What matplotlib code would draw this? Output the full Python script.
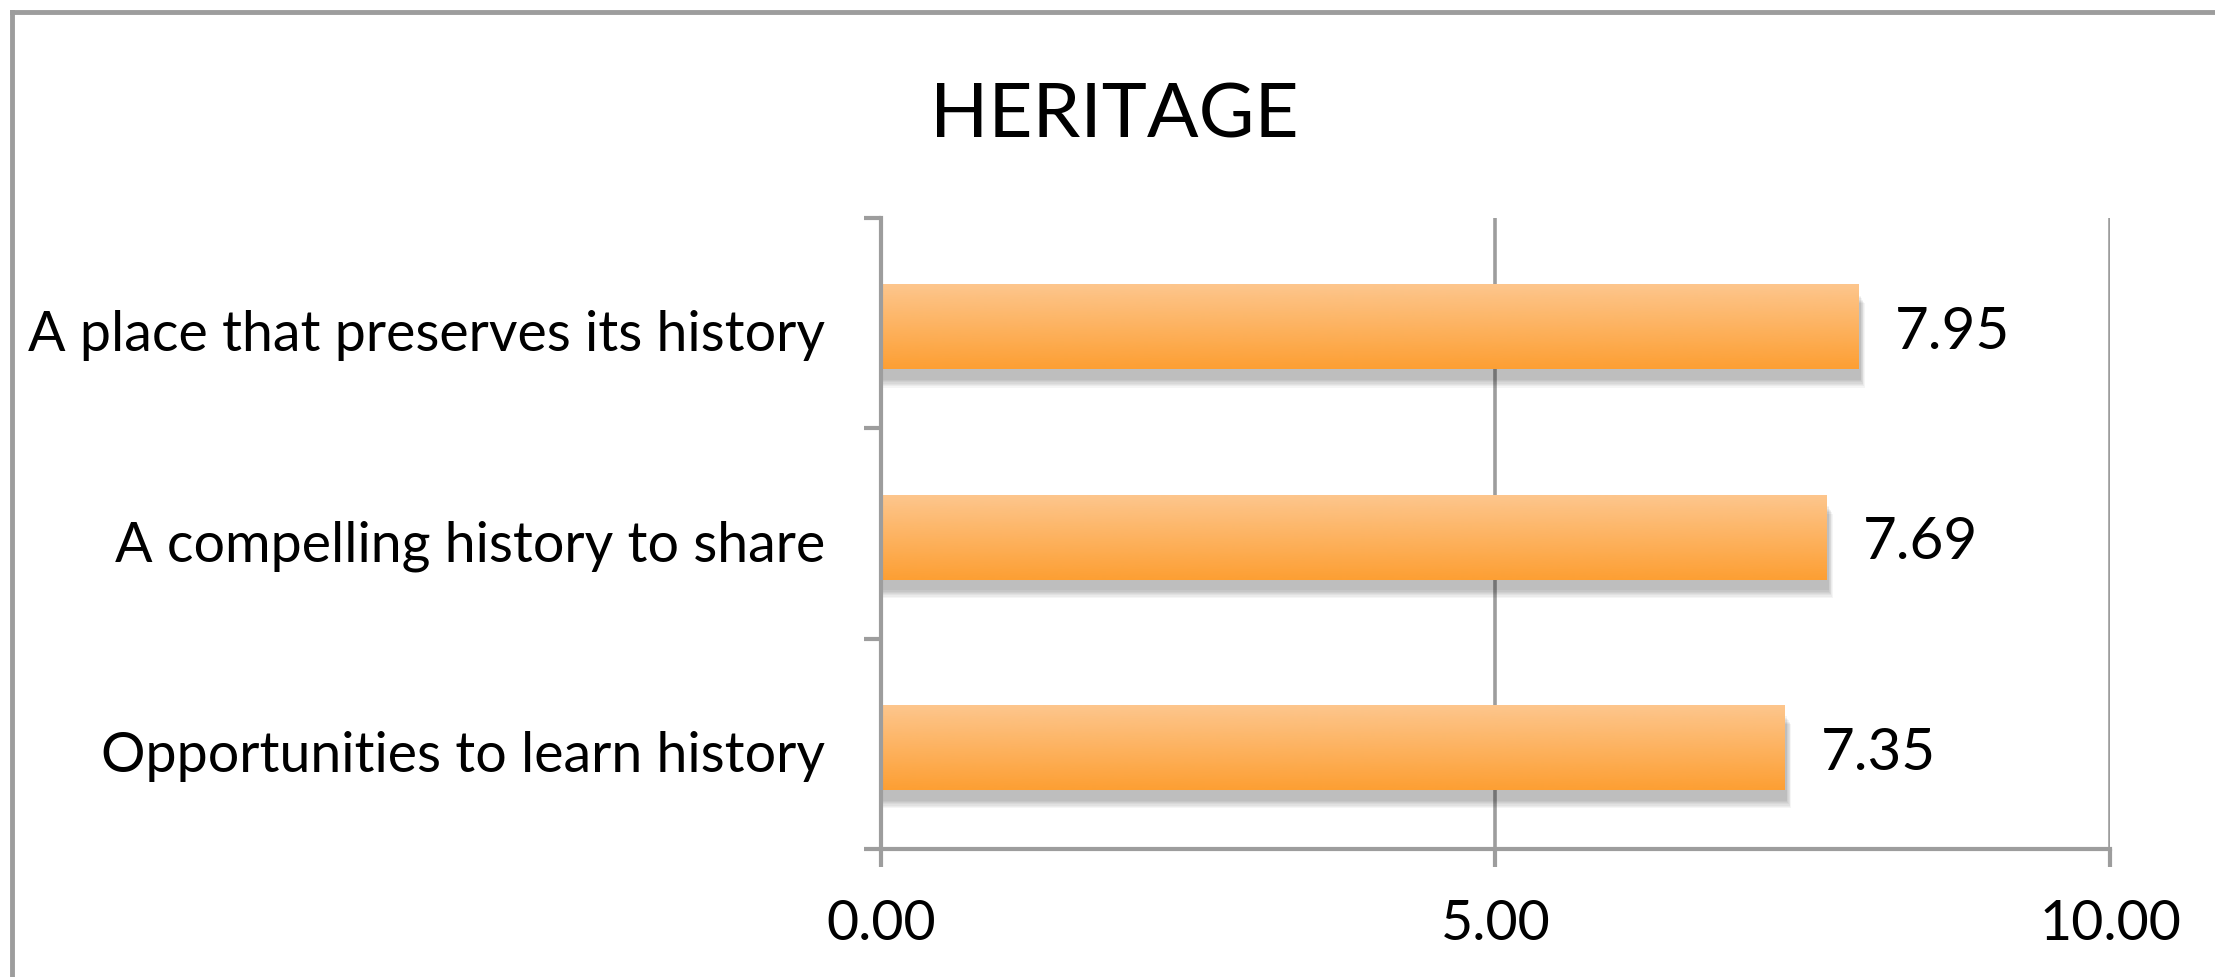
import numpy as np
import matplotlib.pyplot as plt
from matplotlib.colors import LinearSegmentedColormap
from matplotlib.patches import Rectangle
from matplotlib.lines import Line2D

categories = ['A place that preserves its history',
              'A compelling history to share',
              'Opportunities to learn history']
scores = [7.95, 7.69, 7.35]
tick_values = [0, 5, 10]
tick_labels = ['0.00', '5.00', '10.00']

plt.rcParams['font.family'] = ['Lato', 'DejaVu Sans']

fig = plt.figure(figsize=(22.15, 9.78), dpi=100)
ax = fig.add_axes([0.3977, 0.1309, 0.5549, 0.6452])

grey = '#9d9d9d'
bar_h = 0.40
ypos = np.arange(len(categories))[::-1]  # first category on top

# orange vertical gradient, dark at the bottom
cmap = LinearSegmentedColormap.from_list('orange', ['#fd9f33', '#fdc68d'])
grad = np.linspace(0, 1, 256).reshape(-1, 1)

for y, v in zip(ypos, scores):
    # soft shadow below the bar
    for k in range(7):
        d = 0.006 * k
        ax.add_patch(Rectangle((0.02 - d, y - bar_h / 2 - 0.07 - d),
                               v + 2 * d, bar_h,
                               facecolor='black', alpha=0.04,
                               edgecolor='none', zorder=2))
    ax.imshow(grad, cmap=cmap, origin='lower', aspect='auto',
              extent=[0, v, y - bar_h / 2 - 0.02, y + bar_h / 2 - 0.02],
              zorder=3)
    ax.text(v + 0.3, y - 0.04, f'{v:.2f}', va='center', ha='left',
            fontsize=42, color='black')

ax.set_xlim(0, 10)
ax.set_ylim(-0.5, 2.5)

# vertical gridlines
for t in tick_values[1:]:
    ax.axvline(t, color=grey, lw=2.6, zorder=1)

for s in ['top', 'right']:
    ax.spines[s].set_visible(False)
for s in ['left', 'bottom']:
    ax.spines[s].set_color(grey)
    ax.spines[s].set_linewidth(3)
    ax.spines[s].set_zorder(4)

ax.set_xticks(tick_values)
ax.set_xticklabels(tick_labels)
ax.set_yticks([-0.5, 0.5, 1.5, 2.5])
ax.set_yticklabels([])
ax.set_yticks(ypos - 0.03, minor=True)
ax.set_yticklabels(categories, minor=True)
ax.tick_params(axis='x', length=13, width=3, color=grey, labelsize=40, pad=22)
ax.tick_params(axis='y', which='major', length=12, width=3, color=grey)
ax.tick_params(axis='y', which='minor', length=0, labelsize=40, pad=40)

fig.text(0.503, 0.881, 'HERITAGE', ha='center', va='center', fontsize=55)

# outer frame
fig.add_artist(Line2D([0.0055, 0.0055], [0, 0.9872], color=grey, lw=3.5,
                      transform=fig.transFigure))
fig.add_artist(Line2D([0.0055, 1], [0.9872, 0.9872], color=grey, lw=3.5,
                      transform=fig.transFigure))

fig.savefig('out.png', dpi=100)
